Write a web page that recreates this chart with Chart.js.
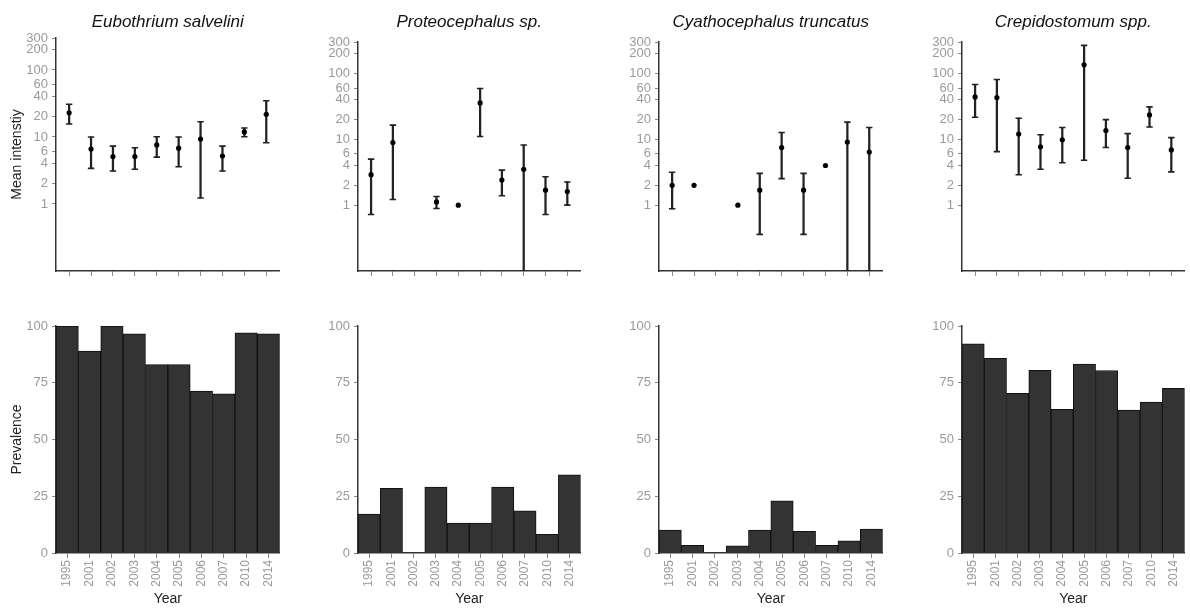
<!DOCTYPE html>
<html>
<head>
<meta charset="utf-8">
<script src="https://cdn.jsdelivr.net/npm/chart.js@4.4.1/dist/chart.umd.min.js"></script>
<style>
  body { margin: 0; background: #fff; }
  #wrap { position: relative; width: 1190px; height: 615px; overflow: hidden; }
  canvas { position: absolute; }
</style>
</head>
<body>
<div id="wrap"></div>
<script>
const years = ['1995', '2001', '2002', '2003', '2004', '2005', '2006', '2007', '2010', '2014']
const species = ['Eubothrium salvelini', 'Proteocephalus sp.', 'Cyathocephalus truncatus', 'Crepidostomum spp.']

// mean intensity with lower / upper limits (null = no value)
const eubMean = [23, 6.6, 5.1, 5.1, 7.6, 6.8, 9.3, 5.2, 11.9, 21.8]
const eubLower = [15.6, 3.4, 3.1, 3.3, 5.0, 3.6, 1.23, 3.1, 10.1, 8.2]
const eubUpper = [30.8, 10, 7.3, 6.9, 10.1, 10, 16.9, 7.3, 13.6, 34.8]

const proMean = [2.9, 8.9, null, 1.12, 1.0, 35.6, 2.4, 3.5, 1.69, 1.61]
const proLower = [0.72, 1.22, null, 0.89, null, 11.0, 1.39, 0.1, 0.72, 1.0]
const proUpper = [5.0, 16.4, null, 1.35, null, 59, 3.4, 8.2, 2.7, 2.25]

const cyaMean = [2.0, 2.0, null, 1.0, 1.69, 7.5, 1.69, 4.0, 9.1, 6.4]
const cyaLower = [0.88, null, null, null, 0.36, 2.53, 0.36, null, 0.1, 0.1]
const cyaUpper = [3.15, null, null, null, 3.04, 12.7, 3.04, null, 18.2, 15.1]

const creMean = [44, 43, 12.0, 7.7, 9.8, 135, 13.6, 7.5, 23.4, 6.9]
const creLower = [21.6, 6.5, 2.9, 3.5, 4.4, 4.8, 7.5, 2.56, 15.4, 3.2]
const creUpper = [68, 81, 20.9, 11.7, 15.1, 267, 19.9, 12.2, 31, 10.6]

// prevalence (%)
const eubPrev = [100, 89, 100, 96.5, 83, 83, 71.3, 70.1, 97, 96.5]
const proPrev = [17.1, 28.5, 0, 29, 13.2, 13.2, 29, 18.6, 8.2, 34.4]
const cyaPrev = [10.1, 3.4, 0, 3.2, 10.1, 23, 9.5, 3.4, 5.4, 10.5]
const crePrev = [92.2, 85.8, 70.3, 80.5, 63.3, 83.2, 80.4, 63, 66.5, 72.5]

const logTicks = [1, 2, 4, 6, 10, 20, 40, 60, 100, 200, 300]
const prevTicks = [0, 25, 50, 75, 100]

const FONT = "'Liberation Sans', Arial, sans-serif"
const TICK_GREY = '#9a9a9a'
const AXIS_DARK = '#333'

// page layout of the four columns
const colLeft = [56, 358, 659, 962]
const colRight = [283, 584, 886, 1188]
const topPlotTop = [38, 42, 42, 42]

const makeCanvas = (left, top, w, h) => {
  const c = document.createElement('canvas')
  c.width = w
  c.height = h
  c.style.left = left + 'px'
  c.style.top = top + 'px'
  c.style.width = w + 'px'
  c.style.height = h + 'px'
  document.getElementById('wrap').appendChild(c)
  return c
}

const axisGrid = (len) => ({
  display: true, drawOnChartArea: false, drawTicks: true, tickLength: len, color: '#888', lineWidth: 1, offset: false
})
const axisBorder = { display: true, color: AXIS_DARK, width: 1.5 }

const intensityChart = (col, mean, lower, upper) => {
  const yw = col === 0 ? 56 : 40
  const w = yw + colRight[col] - colLeft[col] + 2
  const canvas = makeCanvas(colLeft[col] - yw, 0, w, 290)
  const xs = years.map((y, i) => i + 1)

  new Chart(canvas, {
    type: 'scatter',
    data: {
      datasets: [
        {
          data: xs.map((x, i) => ({ x, y: mean[i] })),
          pointRadius: 2.6, pointBackgroundColor: '#000', pointBorderWidth: 0
        },
        {
          data: xs.map((x, i) => ({ x, y: upper[i] })),
          pointStyle: 'line', pointRadius: 3.2, pointBorderColor: '#222', pointBorderWidth: 1.6, borderColor: '#222'
        },
        {
          data: xs.map((x, i) => ({ x, y: lower[i] })),
          pointStyle: 'line', pointRadius: 3.2, pointBorderColor: '#222', pointBorderWidth: 1.6, borderColor: '#222'
        },
        {
          type: 'bar',
          data: xs.map((x, i) => ({ x, y: lower[i] == null ? null : [lower[i], upper[i]] })),
          barThickness: 1.6, backgroundColor: '#222', borderWidth: 0
        }
      ]
    },
    options: {
      responsive: false,
      animation: false,
      devicePixelRatio: 1,
      layout: { padding: { right: 2 } },
      plugins: {
        legend: { display: false },
        tooltip: { enabled: false },
        title: {
          display: true,
          text: species[col],
          fullSize: false,
          color: '#111',
          font: { family: FONT, size: 17, style: 'italic', weight: 'normal' },
          padding: { top: 11.8, bottom: topPlotTop[col] - 32.2 }
        }
      },
      scales: {
        x: {
          type: 'linear', min: 0.4, max: 10.6, offset: false,
          afterBuildTicks: (s) => { s.ticks = xs.map((v) => ({ value: v })) },
          afterFit: (s) => { s.height = 19 },
          ticks: { display: false },
          grid: axisGrid(5),
          border: axisBorder
        },
        y: {
          type: 'logarithmic', min: 0.1, max: 300,
          afterBuildTicks: (s) => { s.ticks = logTicks.map((v) => ({ value: v })) },
          afterFit: (s) => { s.width = yw },
          ticks: {
            color: TICK_GREY, font: { family: FONT, size: 13 }, padding: 4, autoSkip: false,
            callback: (v) => String(v)
          },
          grid: axisGrid(4),
          border: axisBorder,
          title: {
            display: col === 0, text: 'Mean intenstiy', color: '#222',
            font: { family: FONT, size: 14 }, padding: { top: 9 }
          }
        }
      }
    }
  })
}

const prevalenceChart = (col, prev) => {
  const yw = col === 0 ? 56 : 40
  const w = yw + colRight[col] - colLeft[col] + 2
  const canvas = makeCanvas(colLeft[col] - yw, 290, w, 325)

  new Chart(canvas, {
    type: 'bar',
    data: {
      labels: years,
      datasets: [{
        data: prev,
        backgroundColor: '#333333',
        borderColor: '#111',
        borderWidth: 1,
        categoryPercentage: 1,
        barPercentage: 1
      }]
    },
    options: {
      responsive: false,
      animation: false,
      devicePixelRatio: 1,
      layout: { padding: { top: 36, right: 2 } },
      plugins: {
        legend: { display: false },
        tooltip: { enabled: false }
      },
      scales: {
        x: {
          offset: true,
          afterFit: (s) => { s.height = 62 },
          ticks: {
            color: TICK_GREY, font: { family: FONT, size: 12 }, padding: 2,
            minRotation: 90, maxRotation: 90, autoSkip: false
          },
          grid: axisGrid(5),
          border: axisBorder,
          title: {
            display: true, text: 'Year', color: '#222',
            font: { family: FONT, size: 14 }, padding: { top: 0, bottom: 7 }
          }
        },
        y: {
          min: 0, max: 100,
          afterBuildTicks: (s) => { s.ticks = prevTicks.map((v) => ({ value: v })) },
          afterFit: (s) => { s.width = yw },
          ticks: { color: TICK_GREY, font: { family: FONT, size: 13 }, padding: 4 },
          grid: axisGrid(4),
          border: axisBorder,
          title: {
            display: col === 0, text: 'Prevalence', color: '#222',
            font: { family: FONT, size: 14 }, padding: { top: 9 }
          }
        }
      }
    }
  })
}

intensityChart(0, eubMean, eubLower, eubUpper)
intensityChart(1, proMean, proLower, proUpper)
intensityChart(2, cyaMean, cyaLower, cyaUpper)
intensityChart(3, creMean, creLower, creUpper)

prevalenceChart(0, eubPrev)
prevalenceChart(1, proPrev)
prevalenceChart(2, cyaPrev)
prevalenceChart(3, crePrev)
</script>
</body>
</html>
